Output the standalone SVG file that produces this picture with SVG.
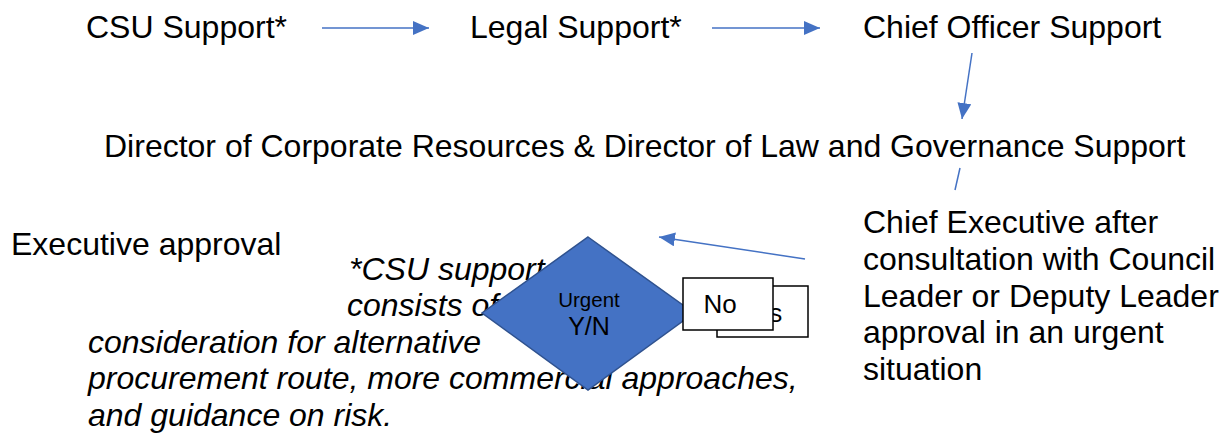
<svg xmlns="http://www.w3.org/2000/svg" width="1229" height="439" viewBox="0 0 1229 439">
<style>
.t{font-family:"Liberation Sans",Arial,sans-serif;font-size:32px;fill:#000}
.i{font-family:"Liberation Sans",Arial,sans-serif;font-size:32px;font-style:italic;fill:#000}
.c{stroke:#4472C4;stroke-width:1.5;fill:none}
.box{fill:#fff;stroke:#000;stroke-width:1.5}
</style>
<defs>
<marker id="ah" markerUnits="userSpaceOnUse" markerWidth="16" markerHeight="14" refX="16" refY="7" orient="auto">
<path d="M0,0 L16,7 L0,14 Z" fill="#4472C4"/>
</marker>
</defs>
<rect width="1229" height="439" fill="#fff"/>
<g id="csu-support"><text class="t" x="86" y="38">CSU Support*</text></g>
<g id="legal-support"><text class="t" x="470" y="38">Legal Support*</text></g>
<g id="chief-officer-support"><text class="t" x="863" y="38">Chief Officer Support</text></g>
<g id="directors-support"><text class="t" x="104" y="157">Director of Corporate Resources &amp; Director of Law and Governance Support</text></g>
<g id="executive-approval"><text class="t" x="11" y="255">Executive approval</text></g>
<g id="chief-executive">
<text class="t" x="863" y="233">Chief Executive after</text>
<text class="t" x="863" y="270">consultation with Council</text>
<text class="t" x="863" y="307">Leader or Deputy Leader</text>
<text class="t" x="863" y="343">approval in an urgent</text>
<text class="t" x="863" y="380">situation</text>
</g>
<g id="csu-note">
<text class="i" x="349" y="280">*CSU support</text>
<text class="i" x="347" y="316">consists of</text>
<text class="i" x="88" y="353">consideration for alternative</text>
<text class="i" x="88" y="389">procurement route, more commercial approaches,</text>
<text class="i" x="88" y="426">and guidance on risk.</text>
</g>
<g id="urgent-decision">
<polygon points="588,237 694,313 588,390 482,313" fill="#4472C4" stroke="#2F528F" stroke-width="1.5"/>
<text x="589" y="307" text-anchor="middle" font-family="Liberation Sans, Arial, sans-serif" font-size="20.5" fill="#000">Urgent</text>
<text x="589" y="335" text-anchor="middle" font-family="Liberation Sans, Arial, sans-serif" font-size="25" fill="#000">Y/N</text>
</g>
<g id="yes-box">
<rect class="box" x="717" y="286" width="91" height="51"/>
<text x="761" y="322" text-anchor="middle" font-family="Liberation Sans, Arial, sans-serif" font-size="26" fill="#000">Yes</text>
</g>
<g id="no-box">
<rect class="box" x="683" y="278" width="90" height="52"/>
<text x="720" y="313" text-anchor="middle" font-family="Liberation Sans, Arial, sans-serif" font-size="26" fill="#000">No</text>
</g>
<g id="connectors">
<line class="c" x1="322" y1="28" x2="429" y2="28" marker-end="url(#ah)"/>
<line class="c" x1="712" y1="28" x2="820" y2="28" marker-end="url(#ah)"/>
<line class="c" x1="972" y1="53" x2="962" y2="119" marker-end="url(#ah)"/>
<line class="c" x1="960" y1="168" x2="955" y2="190"/>
<line class="c" x1="805" y1="259" x2="659" y2="237" marker-end="url(#ah)"/>
</g>
</svg>
